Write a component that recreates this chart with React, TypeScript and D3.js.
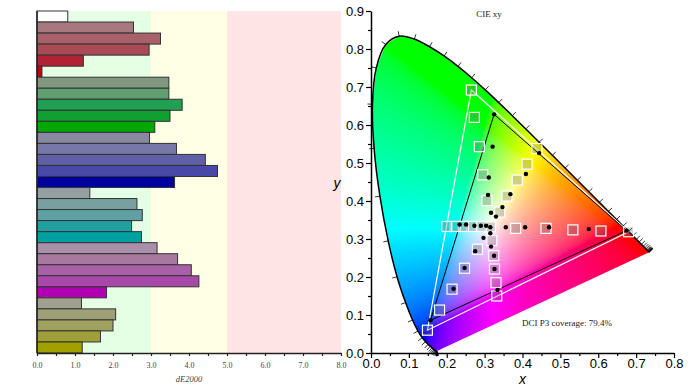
import * as d3 from "d3";
import { useEffect, useRef } from "react";

// dE2000 per patch, top to bottom
const categories = [
  "White",
  "Red 20%", "Red 40%", "Red 60%", "Red 80%", "Red 100%",
  "Green 20%", "Green 40%", "Green 60%", "Green 80%", "Green 100%",
  "Blue 20%", "Blue 40%", "Blue 60%", "Blue 80%", "Blue 100%",
  "Cyan 20%", "Cyan 40%", "Cyan 60%", "Cyan 80%", "Cyan 100%",
  "Magenta 20%", "Magenta 40%", "Magenta 60%", "Magenta 80%", "Magenta 100%",
  "Yellow 20%", "Yellow 40%", "Yellow 60%", "Yellow 80%", "Yellow 100%",
];
const deltaE = [
  0.81,
  2.54, 3.25, 2.95, 1.22, 0.13,
  3.47, 3.47, 3.82, 3.5, 3.1,
  2.96, 3.67, 4.43, 4.75, 3.62,
  1.39, 2.63, 2.77, 2.49, 2.75,
  3.16, 3.7, 4.06, 4.26, 1.83,
  1.17, 2.07, 2.0, 1.67, 1.19,
];
const barColors = [
  "#ffffff",
  "#a87880", "#a8606a", "#aa4a55", "#b02234", "#be0010",
  "#809880", "#60a070", "#20a050", "#10a030", "#00a800",
  "#8888a0", "#7878a8", "#6060a8", "#4848a8", "#0000a0",
  "#96a0a0", "#78a0a0", "#60a0a4", "#20a0a0", "#00a0a0",
  "#a890a8", "#a878a0", "#a860a8", "#a848a8", "#b000b0",
  "#a0a090", "#a0a078", "#a0a060", "#a0a038", "#a0a000",
];
const zoneStart = [0, 3, 5];
const zoneEnd = [3, 5, 8];
const zoneColors = ["#e5ffe5", "#ffffe5", "#ffe5e5"];
const deTicks = [0, 1, 2, 3, 4, 5, 6, 7, 8];

// CIE xy: targets (squares) and measured (dots), same order as the bars
const targetX = [
  0.315,
  0.382, 0.462, 0.533, 0.607, 0.68,
  0.306, 0.295, 0.286, 0.273, 0.265,
  0.281, 0.247, 0.214, 0.181, 0.149,
  0.291, 0.266, 0.244, 0.222, 0.2,
  0.319, 0.324, 0.326, 0.33, 0.332,
  0.34, 0.359, 0.386, 0.412, 0.438,
];
const targetY = [
  0.332,
  0.328, 0.328, 0.324, 0.321, 0.319,
  0.401, 0.469, 0.543, 0.62, 0.692,
  0.273, 0.223, 0.168, 0.113, 0.06,
  0.333, 0.333, 0.333, 0.333, 0.333,
  0.296, 0.256, 0.221, 0.185, 0.15,
  0.371, 0.413, 0.455, 0.497, 0.538,
];
const measuredX = [
  0.315,
  0.356, 0.407, 0.47, 0.575, 0.675,
  0.317, 0.309, 0.311, 0.321, 0.325,
  0.297, 0.275, 0.247, 0.218, 0.157,
  0.304, 0.29, 0.273, 0.251, 0.234,
  0.315, 0.317, 0.325, 0.326, 0.334,
  0.33, 0.347, 0.368, 0.409, 0.444,
];
const measuredY = [
  0.331,
  0.331, 0.331, 0.331, 0.326, 0.322,
  0.369, 0.416, 0.462, 0.543, 0.628,
  0.303, 0.268, 0.224, 0.169, 0.086,
  0.335, 0.335, 0.335, 0.338, 0.338,
  0.315, 0.28, 0.256, 0.221, 0.166,
  0.359, 0.384, 0.418, 0.471, 0.526,
];

// CIE 1931 2° spectral locus, 380..700 nm every 5 nm
const locusX = [
  0.1741, 0.174, 0.1738, 0.1736, 0.1733, 0.173, 0.1726, 0.1721, 0.1714, 0.1703,
  0.1689, 0.1669, 0.1644, 0.1611, 0.1566, 0.151, 0.144, 0.1355, 0.1241, 0.1096,
  0.0913, 0.0687, 0.0454, 0.0235, 0.0082, 0.0039, 0.0139, 0.0389, 0.0743, 0.1142,
  0.1547, 0.1929, 0.2296, 0.2658, 0.3016, 0.3373, 0.3731, 0.4087, 0.4441, 0.4788,
  0.5125, 0.5448, 0.5752, 0.6029, 0.627, 0.6482, 0.6658, 0.6801, 0.6915, 0.7006,
  0.7079, 0.714, 0.719, 0.723, 0.726, 0.7283, 0.73, 0.7311, 0.732, 0.7327,
  0.7334, 0.734, 0.7344, 0.7346, 0.7347,
];
const locusY = [
  0.005, 0.005, 0.0049, 0.0049, 0.0048, 0.0048, 0.0048, 0.0048, 0.0051, 0.0058,
  0.0069, 0.0086, 0.0109, 0.0138, 0.0177, 0.0227, 0.0297, 0.0399, 0.0578, 0.0868,
  0.1327, 0.2007, 0.295, 0.4127, 0.5384, 0.6548, 0.7502, 0.812, 0.8338, 0.8262,
  0.8059, 0.7816, 0.7543, 0.7243, 0.6923, 0.6589, 0.6245, 0.5896, 0.5547, 0.5202,
  0.4866, 0.4544, 0.4242, 0.3965, 0.3725, 0.3514, 0.334, 0.3197, 0.3083, 0.2993,
  0.292, 0.2859, 0.2809, 0.277, 0.274, 0.2717, 0.27, 0.2689, 0.268, 0.2673,
  0.2666, 0.266, 0.2656, 0.2654, 0.2653,
];

const serif = "'Liberation Serif', 'Times New Roman', serif";
const sans = "'Liberation Sans', Arial, sans-serif";

function xyToRgb(x: number, y: number): [number, number, number] {
  const X = x / y;
  const Z = (1 - x - y) / y;
  let r = 3.2406 * X - 1.5372 - 0.4986 * Z;
  let g = -0.9689 * X + 1.8758 + 0.0415 * Z;
  let b = 0.0557 * X - 0.204 + 1.057 * Z;
  r = Math.max(0, r);
  g = Math.max(0, g);
  b = Math.max(0, b);
  const m = Math.max(r, g, b) || 1;
  const gam = (c: number) => {
    c = c / m;
    return c <= 0.0031308 ? 12.92 * c : 1.055 * Math.pow(c, 1 / 2.4) - 0.055;
  };
  return [gam(r) * 255, gam(g) * 255, gam(b) * 255];
}

function chromaImage(w: number, h: number, xMax: number, yMax: number) {
  const canvas = document.createElement("canvas");
  canvas.width = w;
  canvas.height = h;
  const ctx = canvas.getContext("2d")!;
  const img = ctx.createImageData(w, h);
  for (let j = 0; j < h; j++) {
    const y = yMax * (1 - (j + 0.5) / h);
    for (let i = 0; i < w; i++) {
      const x = xMax * ((i + 0.5) / w);
      const k = (j * w + i) * 4;
      if (y < 0.002) continue;
      const [r, g, b] = xyToRgb(x, y);
      img.data[k] = r;
      img.data[k + 1] = g;
      img.data[k + 2] = b;
      img.data[k + 3] = 255;
    }
  }
  ctx.putImageData(img, 0, 0);
  return canvas.toDataURL();
}

function App() {
  const ref = useRef<SVGSVGElement>(null);

  useEffect(() => {
    const svg = d3.select(ref.current);
    svg.selectAll("*").remove();

    // ---- left: dE2000 bars ----
    const xB = d3.scaleLinear().domain([0, 8]).range([37, 341]);
    const yB = d3.scaleBand().domain(categories).range([11, 353]).padding(0);

    svg
      .append("g")
      .selectAll("rect")
      .data(zoneStart)
      .join("rect")
      .attr("x", (d) => xB(d))
      .attr("y", 11)
      .attr("width", (d, i) => xB(zoneEnd[i]) - xB(d))
      .attr("height", 342)
      .attr("fill", (d, i) => zoneColors[i]);

    svg
      .append("g")
      .selectAll("rect")
      .data(categories)
      .join("rect")
      .attr("x", xB(0))
      .attr("y", (d) => yB(d)!)
      .attr("width", (d, i) => xB(deltaE[i]) - xB(0))
      .attr("height", yB.bandwidth())
      .attr("fill", (d, i) => barColors[i])
      .attr("stroke", "#333")
      .attr("stroke-width", 1);

    svg
      .append("line")
      .attr("x1", xB(0))
      .attr("x2", xB(0))
      .attr("y1", 11)
      .attr("y2", 353)
      .attr("stroke", "#222")
      .attr("stroke-width", 1.5);

    const axB = svg
      .append("g")
      .attr("transform", "translate(0,353)")
      .call(
        d3
          .axisBottom(xB)
          .tickValues(d3.range(0, 8.01, 0.5))
          .tickSize(3)
          .tickSizeOuter(0)
          .tickPadding(6)
          .tickFormat((d) => (deTicks.includes(+d) ? (+d).toFixed(1) : ""))
      );
    axB.select(".domain").attr("stroke", "#222").attr("stroke-width", 1.5);
    axB.selectAll("line").attr("stroke", "#222").attr("stroke-width", 1.2);
    axB
      .selectAll("text")
      .attr("font-family", serif)
      .attr("font-size", 8)
      .attr("fill", "#444");

    svg
      .append("text")
      .attr("x", 189)
      .attr("y", 382)
      .attr("text-anchor", "middle")
      .attr("font-family", serif)
      .attr("font-style", "italic")
      .attr("font-size", 8.5)
      .attr("fill", "#444")
      .text("dE2000");

    // ---- right: CIE xy ----
    const xS = d3.scaleLinear().domain([0, 0.8]).range([371, 674]);
    const yS = d3.scaleLinear().domain([0, 0.9]).range([353, 11]);

    const locus = locusX.map((x, i) => [xS(x), yS(locusY[i])] as [number, number]);
    const defs = svg.append("defs");
    defs
      .append("clipPath")
      .attr("id", "locus-clip")
      .append("path")
      .attr("d", d3.line()(locus) + "Z");

    const xMax = 0.75;
    const yMax = 0.85;
    const iw = xS(xMax) - xS(0);
    const ih = yS(0) - yS(yMax);
    svg
      .append("image")
      .attr("href", chromaImage(Math.round(iw * 2), Math.round(ih * 2), xMax, yMax))
      .attr("x", xS(0))
      .attr("y", yS(yMax))
      .attr("width", iw)
      .attr("height", ih)
      .attr("preserveAspectRatio", "none")
      .attr("clip-path", "url(#locus-clip)");

    svg
      .append("path")
      .attr("d", d3.line().curve(d3.curveCatmullRom)(locus))
      .attr("fill", "none")
      .attr("stroke", "#000")
      .attr("stroke-width", 1.5);

    // wavelength ticks along the locus
    const cx = xS(0.33);
    const cy = yS(0.33);
    const tickG = svg.append("g").attr("stroke", "#000").attr("stroke-width", 0.8);
    locus.forEach((p, i) => {
      const a = locus[Math.max(0, i - 1)];
      const b = locus[Math.min(locus.length - 1, i + 1)];
      let tx = b[0] - a[0];
      let ty = b[1] - a[1];
      const len = Math.hypot(tx, ty) || 1;
      tx /= len;
      ty /= len;
      let nx = -ty;
      let ny = tx;
      if (nx * (p[0] - cx) + ny * (p[1] - cy) < 0) {
        nx = -nx;
        ny = -ny;
      }
      tickG
        .append("line")
        .attr("x1", p[0])
        .attr("y1", p[1])
        .attr("x2", p[0] + nx * 5)
        .attr("y2", p[1] + ny * 5);
    });

    // gamut triangles: target (white) and measured (black)
    const tri = (xs: number[], ys: number[]) =>
      [5, 10, 15].map((i) => [xS(xs[i]), yS(ys[i])] as [number, number]);
    svg
      .append("path")
      .attr("d", d3.line()(tri(targetX, targetY)) + "Z")
      .attr("fill", "none")
      .attr("stroke", "#fff")
      .attr("stroke-width", 1.2);
    svg
      .append("path")
      .attr("d", d3.line()(tri(measuredX, measuredY)) + "Z")
      .attr("fill", "none")
      .attr("stroke", "#000")
      .attr("stroke-width", 1);

    svg
      .append("g")
      .selectAll("rect")
      .data(targetX)
      .join("rect")
      .attr("x", (d) => xS(d) - 5)
      .attr("y", (d, i) => yS(targetY[i]) - 5)
      .attr("width", 10)
      .attr("height", 10)
      .attr("fill", "rgba(110,110,110,0.3)")
      .attr("stroke", "#fff")
      .attr("stroke-width", 1.2);

    svg
      .append("g")
      .selectAll("circle")
      .data(measuredX)
      .join("circle")
      .attr("cx", (d) => xS(d))
      .attr("cy", (d, i) => yS(measuredY[i]))
      .attr("r", 2.2)
      .attr("fill", "#000");

    // axes
    const yMinor = svg
      .append("g")
      .attr("transform", `translate(${xS(0)},0)`)
      .call(d3.axisLeft(yS).tickValues(d3.range(0.05, 0.9, 0.1)).tickSize(3).tickFormat(() => ""));
    yMinor.select(".domain").remove();
    const yAx = svg
      .append("g")
      .attr("transform", `translate(${xS(0)},0)`)
      .call(d3.axisLeft(yS).tickValues(d3.range(0, 0.91, 0.1)).tickSize(5).tickSizeOuter(0).tickPadding(2).tickFormat(d3.format(".1f")));
    const xMinor = svg
      .append("g")
      .attr("transform", `translate(0,${yS(0)})`)
      .call(d3.axisBottom(xS).tickValues(d3.range(0.05, 0.8, 0.1)).tickSize(3).tickFormat(() => ""));
    xMinor.select(".domain").remove();
    const xAx = svg
      .append("g")
      .attr("transform", `translate(0,${yS(0)})`)
      .call(d3.axisBottom(xS).tickValues(d3.range(0, 0.81, 0.1)).tickSize(5).tickSizeOuter(0).tickPadding(1).tickFormat(d3.format(".1f")));
    [yMinor, yAx, xMinor, xAx].forEach((g) => {
      g.selectAll("line").attr("stroke", "#000").attr("stroke-width", 1.2);
      g.select(".domain").attr("stroke", "#000").attr("stroke-width", 1.5);
      g.selectAll("text").attr("font-family", sans).attr("font-size", 13).attr("fill", "#000");
    });

    svg
      .append("text")
      .attr("x", xS(0.4))
      .attr("y", 384)
      .attr("text-anchor", "middle")
      .attr("font-family", sans)
      .attr("font-style", "italic")
      .attr("font-size", 14)
      .text("x");
    svg
      .append("text")
      .attr("x", 337)
      .attr("y", 188)
      .attr("text-anchor", "middle")
      .attr("font-family", sans)
      .attr("font-style", "italic")
      .attr("font-size", 14)
      .text("y");

    svg
      .append("text")
      .attr("x", 489)
      .attr("y", 17)
      .attr("text-anchor", "middle")
      .attr("font-family", serif)
      .attr("font-size", 9)
      .attr("fill", "#222")
      .text("CIE xy");
    svg
      .append("text")
      .attr("x", 522)
      .attr("y", 326)
      .attr("font-family", serif)
      .attr("font-size", 9)
      .attr("fill", "#222")
      .text("DCI P3 coverage: 79.4%");
  }, []);

  return (
    <svg
      ref={ref}
      width={693}
      height={390}
      style={{ position: "fixed", left: 0, top: 0, background: "#fff" }}
    />
  );
}

export default App;
